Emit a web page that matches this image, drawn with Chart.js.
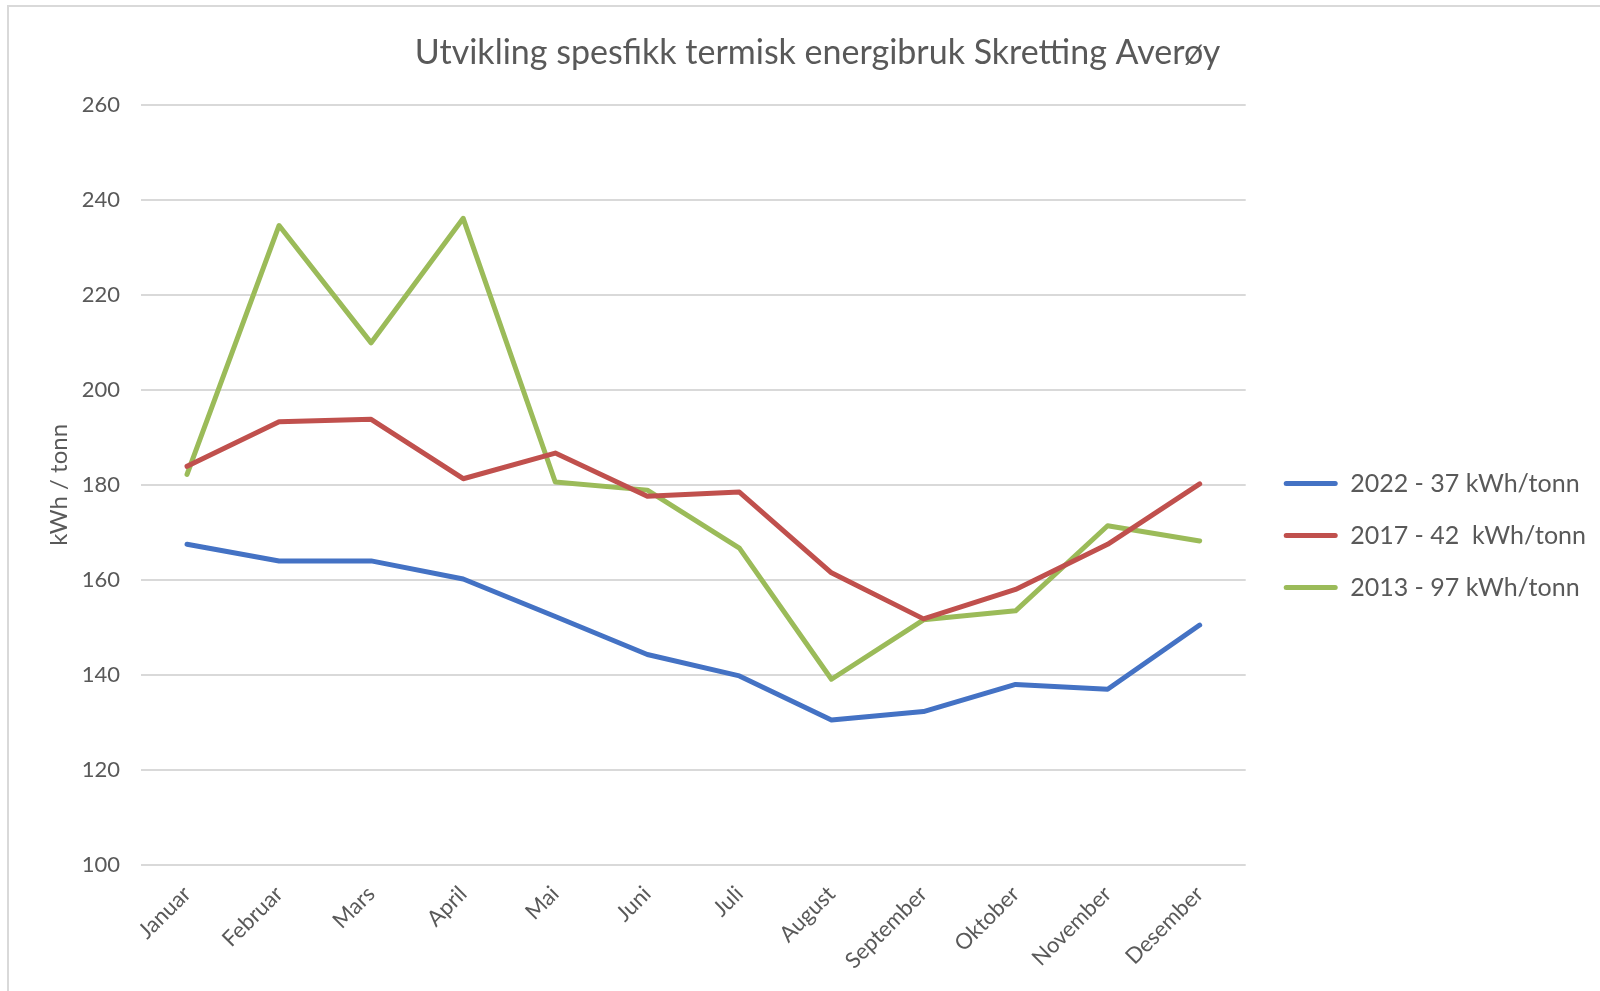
<!DOCTYPE html>
<html lang="no">
<head>
<meta charset="UTF-8">
<title>Utvikling spesfikk termisk energibruk Skretting Averøy</title>
<script src="https://cdn.jsdelivr.net/npm/chart.js"></script>
<style>
  html, body { margin: 0; padding: 0; background: #fff; }
  #wrap { position: relative; width: 1600px; height: 991px; }
</style>
</head>
<body>
<div id="wrap"><canvas id="energyChart"></canvas></div>
<script>
const months = ['Januar', 'Februar', 'Mars', 'April', 'Mai', 'Juni', 'Juli', 'August', 'September', 'Oktober', 'November', 'Desember'];

const seriesNames = ['2022 - 37 kWh/tonn', '2017 - 42  kWh/tonn', '2013 - 97 kWh/tonn'];
const values2022 = [167.5, 164, 164, 160.2, 152.3, 144.3, 139.8, 130.5, 132.3, 138, 137, 150.5];
const values2017 = [183.9, 193.3, 193.8, 181.3, 186.7, 177.6, 178.5, 161.5, 151.8, 158, 167.5, 180.2];
const values2013 = [182.2, 234.6, 209.9, 236.1, 180.6, 178.9, 166.7, 139.1, 151.6, 153.5, 171.4, 168.2];

const yMin = 100, yMax = 260, yStep = 20;

const colors = ['#4472C4', '#C0504D', '#9BBB59'];
const textColor = '#595959';
const fontFamily = 'Lato, "Open Sans", sans-serif';

// light frame round the chart, like the exported picture
const framePlugin = {
  id: 'frame',
  beforeDraw(chart) {
    const c = chart.ctx;
    c.save();
    c.strokeStyle = '#d9d9d9';
    c.lineWidth = 2;
    c.strokeRect(8, 6, 1700, 1100);
    c.restore();
  }
};

// nudge the legend a bit to the right of the plot
const legendShift = {
  id: 'legendShift',
  afterLayout(chart) {
    if (chart.legend) {
      chart.legend.left += 11;
      chart.legend.right += 11;
    }
  }
};

const makeSet = (label, data, color) => ({
  label: label,
  data: data,
  borderColor: color,
  backgroundColor: color,
  borderWidth: 5,
  tension: 0,
  pointRadius: 0,
  pointHoverRadius: 0,
  borderCapStyle: 'round',
  borderJoinStyle: 'round'
});

const ctx = document.getElementById('energyChart').getContext('2d');

new Chart(ctx, {
  type: 'line',
  data: {
    labels: months,
    datasets: [
      makeSet(seriesNames[0], values2022, colors[0]),
      makeSet(seriesNames[1], values2017, colors[1]),
      makeSet(seriesNames[2], values2013, colors[2])
    ]
  },
  options: {
    responsive: true,
    maintainAspectRatio: false,
    animation: false,
    layout: { padding: { left: 50, right: 15, top: 0, bottom: 10 } },
    plugins: {
      title: {
        display: true,
        text: 'Utvikling spesfikk termisk energibruk Skretting Averøy',
        color: textColor,
        font: { family: fontFamily, size: 34, weight: 'normal' },
        padding: { top: 33, bottom: 31 }
      },
      legend: {
        position: 'right',
        align: 'center',
        title: { display: true, text: ' ', font: { size: 10 }, padding: { top: 39, bottom: 39 } },
        labels: {
          color: textColor,
          font: { family: fontFamily, size: 25 },
          boxWidth: 54,
          boxHeight: 5,
          padding: 27,
          useBorderRadius: true,
          borderRadius: 2.5,
          generateLabels: (chart) => {
            const items = Chart.defaults.plugins.legend.labels.generateLabels(chart);
            items.forEach(it => { it.lineWidth = 0; it.fillStyle = it.strokeStyle; });
            return items;
          }
        }
      },
      tooltip: { enabled: false }
    },
    scales: {
      x: {
        offset: true,
        grid: { display: false },
        border: { display: false },
        ticks: {
          color: textColor,
          font: { family: fontFamily, size: 22 },
          maxRotation: 45,
          minRotation: 45,
          autoSkip: false,
          padding: 8
        },
        afterFit: (s) => { s.height = 116; }
      },
      y: {
        min: yMin,
        max: yMax,
        border: { display: false },
        grid: { color: '#d9d9d9', lineWidth: 2, drawTicks: false },
        ticks: {
          stepSize: yStep,
          color: textColor,
          font: { family: fontFamily, size: 22 },
          padding: 21
        },
        title: {
          display: true,
          text: 'kWh / tonn',
          color: textColor,
          font: { family: fontFamily, size: 24 },
          padding: { top: -5, bottom: 0 }
        },
        afterFit: (s) => { s.width = 91; }
      }
    }
  },
  plugins: [framePlugin, legendShift]
});
</script>
</body>
</html>
